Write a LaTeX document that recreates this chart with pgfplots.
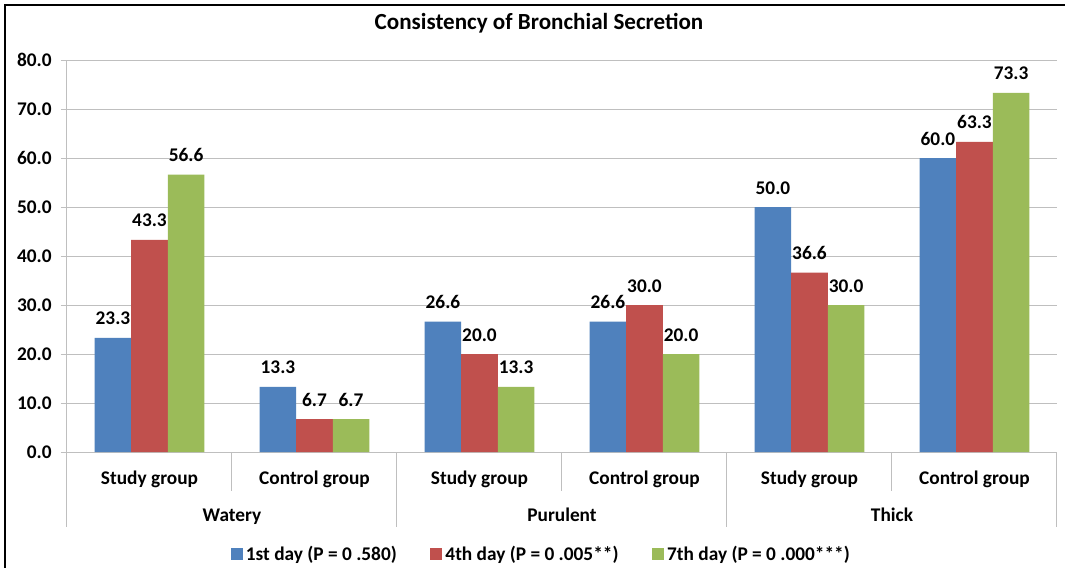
\documentclass[border=0pt]{standalone}
\usepackage{pgfplots}
\pgfplotsset{compat=1.18}
\usepackage{fontspec}
\setmainfont{Carlito}
\definecolor{cblue}{HTML}{4F81BD}
\definecolor{cred}{HTML}{C0504D}
\definecolor{cgreen}{HTML}{9BBB59}
\definecolor{cgrid}{HTML}{BFBFBF}
\newcommand{\lblfont}{\bfseries\fontsize{14.5pt}{17pt}\selectfont}
\begin{document}
\begin{tikzpicture}
\useasboundingbox (0pt,0pt) rectangle (798.75pt,426pt);
\fill[white] (0pt,0pt) rectangle (798.75pt,426pt);
\draw[black,line width=1.1pt] (3.75pt,0pt) -- (3.75pt,422.25pt) -- (798.75pt,422.25pt);
\node[font=\bfseries\fontsize{17.3pt}{20pt}\selectfont] at (404.25pt,408.5pt) {Consistency of Bronchial Secretion};
\begin{axis}[
  at={(50.25pt,87pt)}, anchor=south west,
  scale only axis, width=742.5pt, height=294pt,
  xmin=-0.5, xmax=5.5, ymin=0, ymax=80,
  ytick={0,10,...,80},
  xtick=\empty,
  ymajorgrids, grid style={cgrid, line width=0.75pt},
  axis line style={cgrid, line width=0.75pt},
  axis x line*=bottom, axis y line*=left,
  tick align=outside, major tick length=4.5pt,
  tick style={cgrid, line width=0.75pt},
  yticklabel style={font=\lblfont, xshift=-3.5pt, /pgf/number format/fixed, /pgf/number format/fixed zerofill, /pgf/number format/precision=1, /pgf/number format/assume math mode=true},
  ybar=0pt, bar width=27.4pt,
  nodes near coords={\pgfmathprintnumber[fixed,fixed zerofill,precision=1,assume math mode=true]{\pgfplotspointmeta}},
  every node near coord/.append style={font=\lblfont, anchor=base, inner sep=0pt, yshift=9.75pt, text=black},
  legend columns=3,
  legend style={draw=none, fill=none, at={(0.478,0)}, anchor=center, yshift=-76.5pt, font=\lblfont,
    nodes={inner sep=0pt},
    /tikz/every odd column/.append style={column sep=2.5pt},
    /tikz/every even column/.append style={column sep=25pt}},
  legend image code/.code={\fill[#1] (0pt,-4.5pt) rectangle (9pt,4.5pt);},
  clip=false,
]
\addplot[fill=cblue, draw=none] coordinates {(0,23.3) (1,13.3) (2,26.6) (3,26.6) (4,50.0) (5,60.0)};
\addplot[fill=cred, draw=none] coordinates {(0,43.3) (1,6.7) (2,20.0) (3,30.0) (4,36.6) (5,63.3)};
\addplot[fill=cgreen, draw=none] coordinates {(0,56.6) (1,6.7) (2,13.3) (3,20.0) (4,30.0) (5,73.3)};
\legend{1st day (P = 0 .580), 4th day (P = 0 .005**), 7th day (P = 0 .000***)}
% category separators
\pgfplotsinvokeforeach{0.5,2.5,4.5}{\draw[cgrid, line width=0.75pt] (axis cs:#1,0) -- ++(0pt,-28.9pt);}
\pgfplotsinvokeforeach{-0.5,1.5,3.5,5.5}{\draw[cgrid, line width=0.75pt] (axis cs:#1,0) -- ++(0pt,-56.25pt);}
\pgfplotsinvokeforeach{0,2,4}{\node[font=\lblfont, anchor=base] at ([yshift=-24pt]axis cs:#1,0) {Study group};}
\pgfplotsinvokeforeach{1,3,5}{\node[font=\lblfont, anchor=base] at ([yshift=-24pt]axis cs:#1,0) {Control group};}
\node[font=\lblfont, anchor=base] at ([yshift=-52.25pt]axis cs:0.5,0) {Watery};
\node[font=\lblfont, anchor=base] at ([yshift=-52.25pt]axis cs:2.5,0) {Purulent};
\node[font=\lblfont, anchor=base] at ([yshift=-52.25pt]axis cs:4.5,0) {Thick};
\end{axis}
\end{tikzpicture}
\end{document}
